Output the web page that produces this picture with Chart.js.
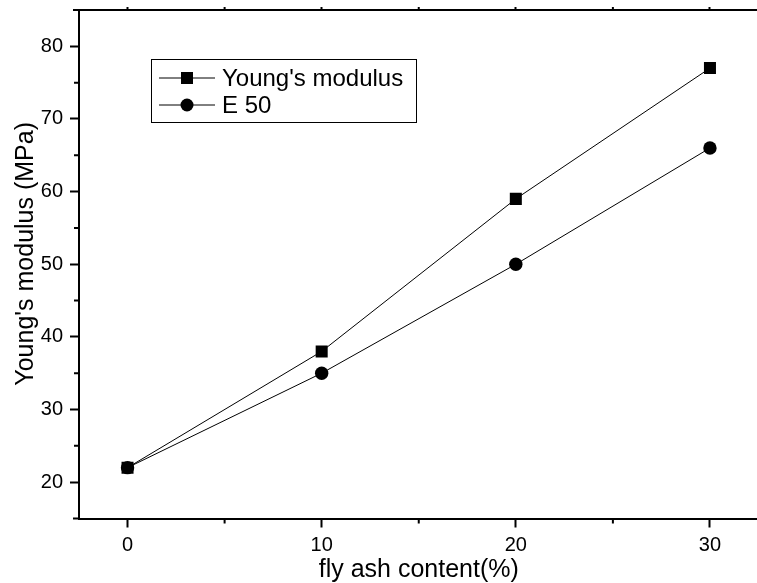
<!DOCTYPE html>
<html>
<head>
<meta charset="utf-8">
<script src="https://cdn.jsdelivr.net/npm/chart.js@4"></script>
<style>
  html, body { margin: 0; padding: 0; background: #fff; overflow: hidden; }
  canvas { display: block; }
</style>
</head>
<body>
<canvas id="modChart" width="767" height="583"></canvas>
<script>
// data
let flyAsh = [0, 10, 20, 30];
let youngs = [22, 38, 59, 77];
let e50 = [22, 35, 50, 66];

let xTicks = [0, 10, 20, 30];
let xMinor = [5, 15, 25];
let yTicks = [20, 30, 40, 50, 60, 70, 80];
let yMinor = [25, 35, 45, 55, 65, 75];

let fontFam = "'Liberation Sans', Arial, sans-serif";

function pts(ys) {
    return flyAsh.map((x, i) => ({ x: x, y: ys[i] }));
}

// minor ticks + little axis overhang, origin style
let minorTicks = {
    id: "minorTicks",
    afterDraw(chart) {
        let ctx = chart.ctx;
        let xs = chart.scales.x, ys = chart.scales.y, a = chart.chartArea;
        ctx.save();
        ctx.strokeStyle = "#000";
        ctx.lineWidth = 2;
        ctx.beginPath();
        xMinor.forEach(v => {
            let px = xs.getPixelForValue(v);
            ctx.moveTo(px, a.bottom);
            ctx.lineTo(px, a.bottom + 5);
            ctx.moveTo(px, a.top);
            ctx.lineTo(px, a.top - 3);
        });
        yMinor.forEach(v => {
            let py = ys.getPixelForValue(v);
            ctx.moveTo(a.left, py);
            ctx.lineTo(a.left - 5, py);
        });
        ctx.moveTo(a.left - 6, a.bottom);
        ctx.lineTo(a.left, a.bottom);
        ctx.moveTo(a.left - 6, a.top);
        ctx.lineTo(a.left, a.top);
        ctx.stroke();
        ctx.restore();
    }
};

// boxed legend with line-symbol-line keys
let boxLegend = {
    id: "boxLegend",
    afterDraw(chart) {
        let ctx = chart.ctx;
        let bx = 151, by = 59, bw = 265, bh = 63;
        ctx.save();
        ctx.fillStyle = "#fff";
        ctx.fillRect(bx, by, bw, bh);
        ctx.strokeStyle = "#000";
        ctx.lineWidth = 1;
        ctx.strokeRect(bx + 0.5, by + 0.5, bw, bh);
        chart.data.datasets.forEach((ds, i) => {
            let cy = by + 19 + i * 27;
            ctx.beginPath();
            ctx.moveTo(159, cy);
            ctx.lineTo(215, cy);
            ctx.stroke();
            ctx.fillStyle = "#000";
            if (ds.pointStyle === "rect") {
                ctx.fillRect(181, cy - 6, 12, 12);
            } else {
                ctx.beginPath();
                ctx.arc(187, cy, 6.5, 0, Math.PI * 2);
                ctx.fill();
            }
            ctx.font = "24px " + fontFam;
            ctx.textBaseline = "middle";
            ctx.fillText(ds.label, 222, cy + 1);
        });
        ctx.restore();
    }
};

let ctx = document.getElementById("modChart").getContext("2d");

new Chart(ctx, {
    type: "line",
    data: {
        datasets: [{
            label: "Young's modulus",
            data: pts(youngs),
            borderColor: "#000",
            borderWidth: 1,
            backgroundColor: "#000",
            pointStyle: "rect",
            pointRadius: 8.5,
            pointBorderWidth: 0
        }, {
            label: "E 50",
            data: pts(e50),
            borderColor: "#000",
            borderWidth: 1,
            backgroundColor: "#000",
            pointStyle: "circle",
            pointRadius: 6.7,
            pointBorderWidth: 0
        }]
    },
    options: {
        responsive: false,
        animation: false,
        layout: { padding: 0 },
        plugins: {
            legend: { display: false },
            tooltip: { enabled: false }
        },
        scales: {
            x: {
                type: "linear",
                position: "bottom",
                min: -2.5,
                max: 32.5,
                afterBuildTicks: s => { s.ticks = xTicks.map(v => ({ value: v })); },
                afterFit: s => { s.height = 64.5; s.paddingLeft = 0; s.paddingRight = 0; },
                grid: { drawOnChartArea: false, tickLength: 9, tickColor: "#000", tickWidth: 2 },
                border: { color: "#000", width: 2 },
                ticks: { color: "#000", font: { family: fontFam, size: 20 }, padding: 6, maxRotation: 0 },
                title: {
                    display: true,
                    text: "fly ash content(%)",
                    color: "#000",
                    font: { family: fontFam, size: 25, lineHeight: 1 },
                    padding: { top: 0, bottom: 0 }
                }
            },
            x2: {
                type: "linear",
                position: "top",
                min: -2.5,
                max: 32.5,
                afterBuildTicks: s => { s.ticks = xTicks.map(v => ({ value: v })); },
                afterFit: s => { s.height = 10; s.paddingLeft = 0; s.paddingRight = 0; },
                grid: { drawOnChartArea: false, tickLength: 3, tickColor: "#000", tickWidth: 2 },
                border: { color: "#000", width: 2 },
                ticks: { display: false }
            },
            y: {
                type: "linear",
                min: 15,
                max: 85,
                afterBuildTicks: s => { s.ticks = yTicks.map(v => ({ value: v })); },
                afterFit: s => { s.width = 79; s.paddingTop = 0; s.paddingBottom = 0; },
                grid: { drawOnChartArea: false, tickLength: 9, tickColor: "#000", tickWidth: 2 },
                border: { color: "#000", width: 2 },
                ticks: { color: "#000", font: { family: fontFam, size: 20 }, padding: 7 },
                title: {
                    display: true,
                    text: "   Young's modulus (MPa)",
                    color: "#000",
                    font: { family: fontFam, size: 25, lineHeight: 1 },
                    padding: { top: 14, bottom: 0 }
                }
            }
        }
    },
    plugins: [minorTicks, boxLegend]
});
</script>
</body>
</html>
